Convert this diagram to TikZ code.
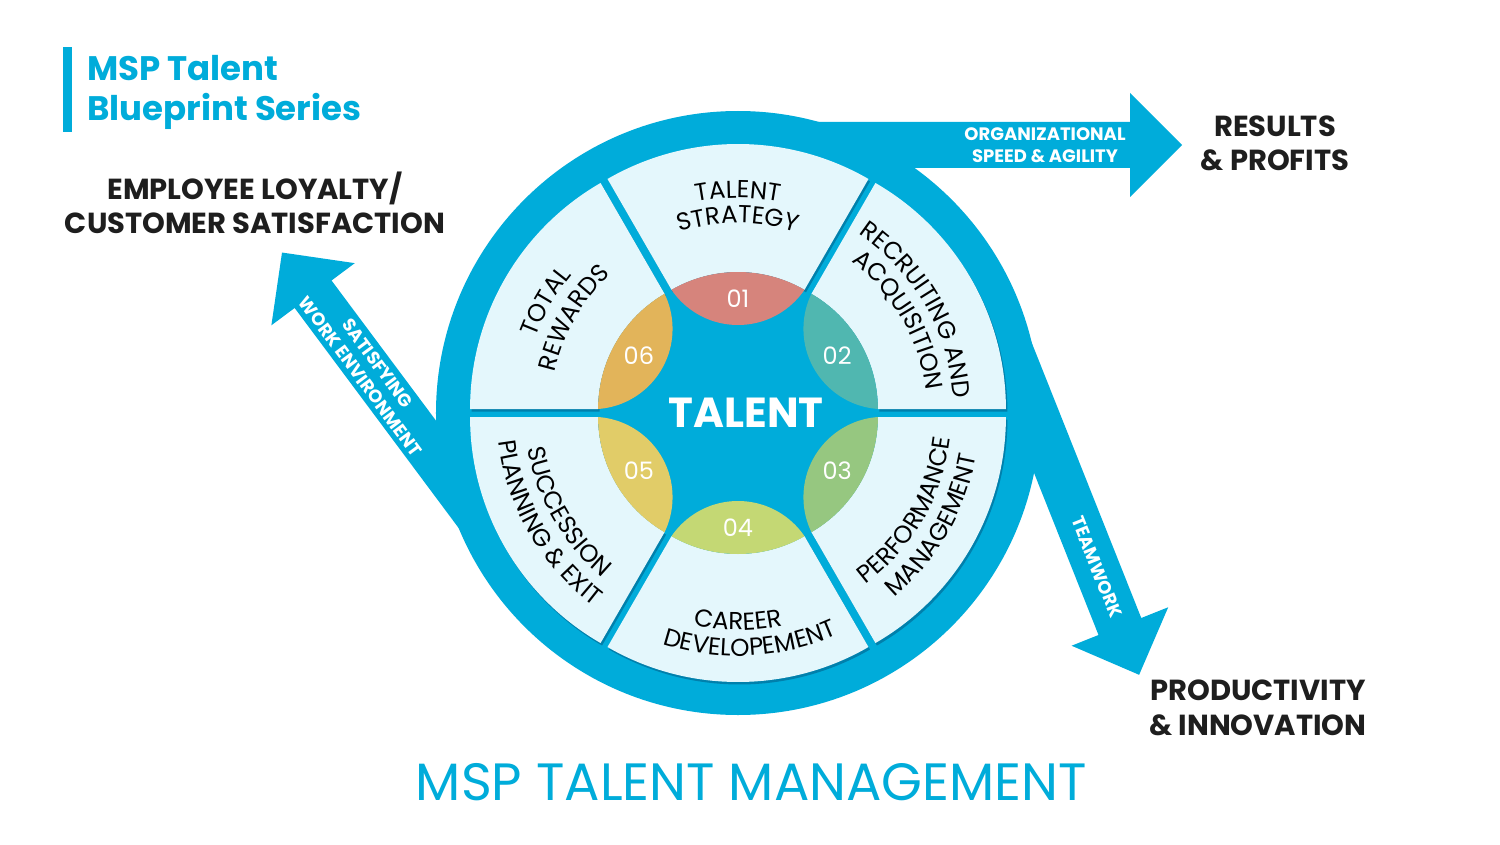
\documentclass[tikz,border=0pt]{standalone}
\usepackage{fontspec}
\setmainfont{Poppins}
\usetikzlibrary{decorations.text}
\definecolor{mspblue}{RGB}{0,172,218}
\definecolor{mspshade}{RGB}{0,128,172}
\definecolor{panel}{RGB}{228,247,252}
\definecolor{ink}{RGB}{30,30,30}
\definecolor{c01}{RGB}{214,132,124}
\definecolor{c02}{RGB}{80,183,176}
\definecolor{c03}{RGB}{150,199,128}
\definecolor{c04}{RGB}{196,216,116}
\definecolor{c05}{RGB}{225,204,104}
\definecolor{c06}{RGB}{226,180,90}

\begin{document}
\begin{tikzpicture}[x=1pt,y=1pt,
  num/.style={text=white,inner sep=0pt,font=\fontsize{24}{24}\selectfont},
  bandtext/.style={text=white,inner sep=0pt,align=center,font=\fontsize{18}{21.7}\selectfont\bfseries},
  goal/.style={text=ink,inner sep=0pt,align=center,font=\fontsize{29}{34.5}\selectfont\bfseries}]
  \useasboundingbox (-738,-431) rectangle (762,413);
  \fill[white] (-738,-431) rectangle (762,413);

  % ring and the three arrows leaving it
  \fill[mspblue] (0,0) circle (302);
  \foreach \sx/\sy/\ang/\len in {0/268/0/392, -227.7/-145.8/126.7/330, 256.2/102.4/-68.3/340}
    \fill[mspblue,shift={(\sx,\sy)},rotate=\ang] (0,23) -- (\len,23) -- (\len,52) -- ({\len+52},0)
      -- (\len,-52) -- (\len,-23) -- (0,-23) -- cycle;

  % panels and petals
  \foreach \a/\col/\num in {60/c01/01, 0/c02/02, -60/c03/03, -120/c04/04, 180/c05/05, 120/c06/06}{
    \begin{scope}[shift={(\a+30:8)}]
      \fill[mspshade,shift={(1.5,-2.5)}] (\a:133) -- (\a:261) arc[start angle=\a, end angle=\a+60, radius=261]
        -- (\a+60:133) arc[start angle=\a+60, end angle=\a, radius=133] -- cycle;
      \fill[panel] (\a:133) -- (\a:261) arc[start angle=\a, end angle=\a+60, radius=261]
        -- (\a+60:133) arc[start angle=\a+60, end angle=\a, radius=133] -- cycle;
      \begin{scope}
        \clip (0,0) circle (133);
        \fill[\col] (\a+30:160.4) circle (80.4);
      \end{scope}
      \node[num] (p\num) at (\a+30:106.5) {\num};
    \end{scope}
  }
  \node[text=white,inner sep=0pt,font=\fontsize{42}{42}\selectfont\bfseries] (talent) at (8,0) {TALENT};

  % panel labels along the arcs
  \begin{scope}
    \fontsize{24.5}{24.5}\selectfont
    \foreach \c/\r/\txt in {90/215/TALENT, 90/190/STRATEGY, 30/216/RECRUITING AND, 30/189/ACQUISITION,
                            150/216/TOTAL, 150/188/REWARDS}
      \path[decorate,decoration={text along path,text align=center,text/.expanded=\txt}]
        (\c+45:\r) arc[start angle=\c+45, end angle=\c-45, radius=\r];
    \foreach \c/\r/\txt in {-30/214/PERFORMANCE, -30/242/MANAGEMENT, -90/217/CAREER, -87/243/DEVELOPEMENT,
                            -150/213/SUCCESSION, -150/241/PLANNING {\&} EXIT}
      \path[decorate,decoration={text along path,text align=center,text/.expanded=\txt}]
        (\c-45:\r) arc[start angle=\c-45, end angle=\c+45, radius=\r];
  \end{scope}

  % arrow labels
  \node[bandtext] (speed) at (307,268) {ORGANIZATIONAL\\SPEED \& AGILITY};
  \node[bandtext,rotate=-53.5] (work) at (-369,43) {SATISFYING\\WORK ENVIRONMENT};
  \node[bandtext,rotate=-68.3] (team) at (359,-154) {TEAMWORK};

  \node[goal] (loyal) at (-483,210) {EMPLOYEE LOYALTY/\\CUSTOMER SATISFACTION};
  \node[goal] (results) at (537,269.7) {RESULTS\\\& PROFITS};
  \node[goal] (product) at (520,-295) {PRODUCTIVITY\\\& INNOVATION};

  % titles
  \fill[mspblue] (-675.3,366.3) rectangle (-666.3,281.3);
  \node[anchor=north west,inner sep=0pt,align=left,text=mspblue,font=\fontsize{34}{40}\selectfont\bfseries]
    (series) at (-651,358) {MSP Talent\\Blueprint Series};
  \node[text=mspblue,inner sep=0pt,font=\fontsize{52.5}{52.5}\selectfont] (title) at (13.5,-369) {MSP TALENT MANAGEMENT};
\end{tikzpicture}
\end{document}
